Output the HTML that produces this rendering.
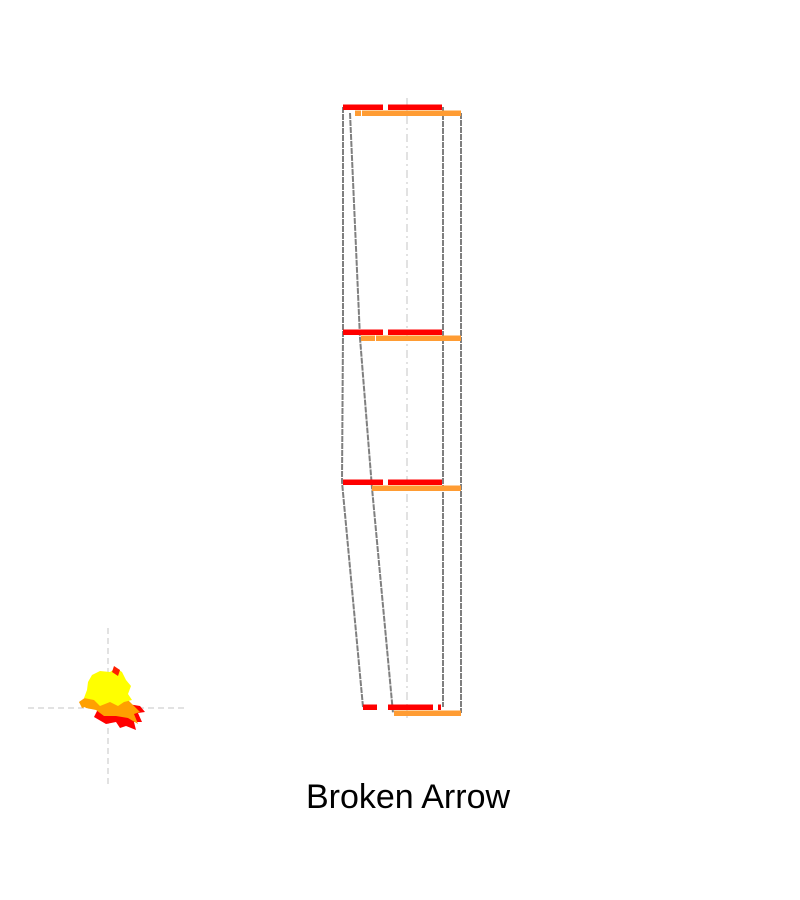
<!DOCTYPE html>
<html><head><meta charset="utf-8">
<style>
html,body{margin:0;padding:0;background:#fff;}
svg{display:block;}
</style></head>
<body>
<svg id="chart" width="800" height="900" viewBox="0 0 800 900" xmlns="http://www.w3.org/2000/svg">
  <g id="blob">
    <line x1="108" y1="628" x2="108" y2="788" stroke="#d9d9d9" stroke-width="1.5" stroke-dasharray="6,4"/>
    <line x1="28" y1="708" x2="188" y2="708" stroke="#d9d9d9" stroke-width="1.5" stroke-dasharray="6,4"/>
    <polygon points="94,717 100,705 118,708 128,704 140,706 145,712 138,713 142,722 134,722 136,730 126,726 120,728 116,722 106,724" fill="#ff0000"/>
    <polygon points="79,702 86,697 98,694 112,698 126,698 134,706 140,712 134,714 138,724 128,718 116,716 104,716 96,710 86,708" fill="#ffa000"/>
    <polygon points="88,682 92,675 100,671 110,672 116,668 122,672 126,680 131,686 128,694 132,700 124,702 118,706 110,702 100,706 94,700 84,698 87,690" fill="#ffff00"/>
    <polygon points="114,666 120,670 118,676 112,672" fill="#ff2000"/>
    <polygon points="79,702 84,700 88,706 82,708" fill="#ffa000"/>
  </g>
  <g id="marks"></g>
  <text x="408" y="808" text-anchor="middle" font-family="Liberation Sans, sans-serif" font-size="34" fill="#000">Broken Arrow</text>
</svg>
<script>
const rowLevels = [0, 225, 375, 600];
const redSegments = [
  [[0,40],[45,99]],
  [[0,40],[45,99]],
  [[0,40],[45,99]],
  [[20,34],[45,90],[95,98]]
];
const orangeSegments = [
  [[12,18],[19,118]],
  [[18,32],[33,118]],
  [[29,118]],
  [[51,118]]
];
const leftEdgeA = [0, 0, -1, 20];
const leftEdgeB = [7, 17, 29, 50];
const rightEdgeA = [100, 100, 100, 100];
const rightEdgeB = [118, 118, 118, 118];

const sx = v => 343 + v * 1.0;
const sy = d => 107 + d * 1.0;
const NS = "http://www.w3.org/2000/svg";
const g = document.getElementById("marks");

function mk(tag, attrs){ const e = document.createElementNS(NS, tag); for (const k in attrs) e.setAttribute(k, attrs[k]); g.appendChild(e); return e; }

const c = mk("line",{x1:407,y1:98,x2:407,y2:722,stroke:"#d9d9d9","stroke-width":1.5,"stroke-dasharray":"8,4,2,4"});



function edge(arr, off, name){
  const pts = arr.map((v,i)=> sx(v)+","+(sy(rowLevels[i])+off)).join(" ");
  const p = mk("polyline",{points:pts,fill:"none",stroke:"#7f7f7f","stroke-width":2,"stroke-dasharray":"6,1"});
  
  
}
edge(leftEdgeA, 0, 'left-edge-outer');
edge(leftEdgeB, 6, 'left-edge-inner');
edge(rightEdgeA, 0, 'right-edge-inner');
edge(rightEdgeB, 6, 'right-edge-outer');

rowLevels.forEach((d,i)=>{
  redSegments[i].forEach(s=>{
    const r = mk("rect",{x:sx(s[0]),y:sy(d)-2.5,width:sx(s[1])-sx(s[0]),height:5.5,fill:"#ff0000"});
    
    
  });
  orangeSegments[i].forEach(s=>{
    const r = mk("rect",{x:sx(s[0]),y:sy(d)+3.5,width:sx(s[1])-sx(s[0]),height:5.5,fill:"#ff9c33"});
    
    
  });
});
</script>
</body></html>
